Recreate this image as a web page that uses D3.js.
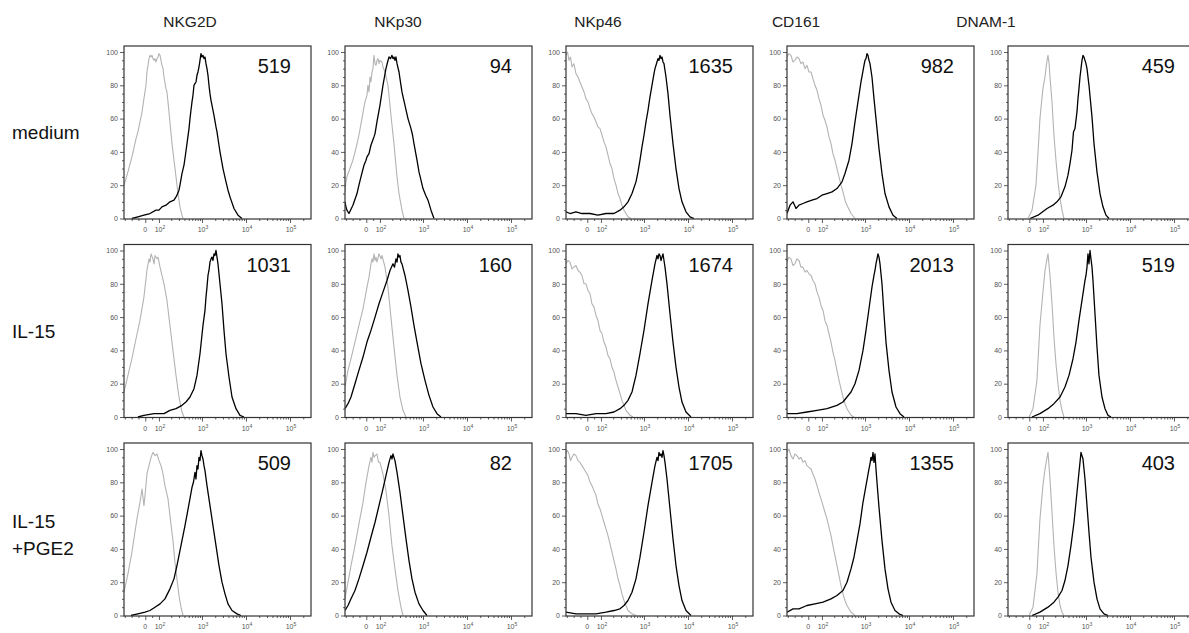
<!DOCTYPE html>
<html>
<head>
<meta charset="utf-8">
<script src="https://cdn.jsdelivr.net/npm/d3@7"></script>
<style>
  body { margin: 0; background: #fff; }
  svg { display: block; font-family: "Liberation Sans", Arial, sans-serif; }
</style>
</head>
<body>
<svg id="chart" width="1189" height="633"></svg>
<script>
// Receptor columns, culture-condition rows and the MFI printed in each panel
const markers = ["NKG2D", "NKp30", "NKp46", "CD161", "DNAM-1"];
const conditions = [["medium"], ["IL-15"], ["IL-15", "+PGE2"]];
const mfi = [
  [519, 94, 1635, 982, 459],
  [1031, 160, 1674, 2013, 519],
  [509, 82, 1705, 1355, 403]
];

// Axis ticks
const xTickValues = [0, 100, 1000, 10000, 100000];
const xTickLabels = [["0", ""], ["10", "2"], ["10", "3"], ["10", "4"], ["10", "5"]];
const xMinorValues = [-150, -100, -50, 50,
  200, 300, 400, 500, 600, 700, 800, 900,
  2000, 3000, 4000, 5000, 6000, 7000, 8000, 9000,
  20000, 30000, 40000, 50000, 60000, 70000, 80000, 90000, 200000];
const yTickValues = [0, 20, 40, 60, 80, 100];
const yMinorValues = [5, 10, 15, 25, 30, 35, 45, 50, 55, 65, 70, 75, 85, 90, 95];

// Histograms: [fluorescence intensity, % of max]; Iso = isotype control, Pos = stained
// medium
const nkg2dMediumIso = [[-156,20],[-127,28],[-98,37],[-68,48],[-54,52],[-39,58],[-24,64],[-10,72],[5,80],[12,88],[20,92],[27,96],[34,98],[42,97],[49,98],[56,96],[64,95],[71,96],[78,94],[86,96],[93,97],[100,99],[108,98],[122,92],[130,90],[137,85],[152,78],[160,76],[169,70],[187,58],[208,45],[219,40],[231,35],[257,25],[285,15],[316,7],[351,2],[370,0]];
const nkg2dMediumPos = [[-98,0],[-54,1],[-10,2],[34,3],[78,5],[100,5],[122,7],[152,8],[187,10],[231,11],[257,13],[270,14],[300,17],[316,20],[351,27],[390,32],[420,38],[456,45],[507,54],[534,60],[562,65],[593,70],[624,74],[658,80],[693,81],[731,82],[770,86],[811,88],[855,91],[901,95],[949,99],[1000,97],[1054,98],[1110,96],[1170,97],[1233,93],[1299,90],[1369,86],[1442,80],[1520,75],[1602,71],[1688,68],[1778,65],[1874,62],[2081,55],[2193,52],[2434,44],[2565,40],[3001,30],[3511,22],[3899,17],[4329,13],[5337,6],[6579,2],[8111,0]];
const nkp30MediumIso = [[-156,16],[-149,22],[-142,25],[-120,30],[-98,35],[-76,42],[-54,50],[-32,60],[-10,70],[5,74],[12,80],[20,76],[27,85],[34,82],[42,88],[49,90],[56,98],[64,93],[71,92],[78,95],[86,96],[93,93],[100,95],[115,94],[122,91],[137,88],[160,80],[187,62],[219,45],[257,25],[285,15],[333,5],[370,0]];
const nkp30MediumPos = [[-156,10],[-149,7],[-142,5],[-127,3],[-98,8],[-68,15],[-54,20],[-39,25],[-17,32],[-2,35],[5,37],[20,39],[34,44],[56,49],[64,51],[78,58],[100,68],[122,80],[144,90],[157,94],[169,97],[183,96],[197,98],[208,96],[219,97],[231,95],[243,97],[257,93],[285,88],[316,80],[333,76],[360,72],[390,68],[456,60],[534,54],[580,50],[624,45],[731,35],[811,28],[900,23],[1000,18],[1150,14],[1299,11],[1520,5],[1778,0]];
const nkp46MediumIso = [[-156,98],[-145,100],[-134,95],[-123,97],[-112,91],[-98,93],[-83,87],[-68,85],[-54,82],[-39,79],[-24,76],[-10,72],[5,70],[20,66],[34,63],[49,61],[64,58],[78,55],[93,54],[108,50],[122,46],[137,43],[152,38],[169,33],[187,30],[208,24],[231,20],[257,15],[285,12],[316,8],[351,5],[390,3],[433,1],[507,0]];
const nkp46MediumPos = [[-156,4],[-127,3],[-83,4],[-39,3],[20,3],[78,2],[137,3],[208,3],[285,5],[351,7],[433,10],[534,15],[658,22],[731,28],[811,35],[901,43],[1000,50],[1110,58],[1233,65],[1369,73],[1520,80],[1688,87],[1778,90],[1974,94],[2081,96],[2193,95],[2310,98],[2434,96],[2565,97],[2703,94],[2848,93],[3162,85],[3511,75],[3899,62],[4562,45],[5337,30],[6244,18],[7305,10],[9006,4],[11100,1],[13690,0]];
const cd161MediumIso = [[-156,97],[-142,99],[-127,98],[-112,94],[-98,95],[-83,97],[-68,96],[-54,93],[-39,94],[-24,90],[-10,92],[5,88],[20,88],[34,84],[49,80],[64,77],[78,72],[93,68],[108,62],[122,59],[137,55],[152,49],[169,45],[187,39],[208,35],[231,30],[257,25],[285,20],[316,16],[351,11],[390,8],[481,3],[593,0]];
const cd161MediumPos = [[-156,3],[-134,8],[-112,10],[-90,6],[-68,8],[-39,9],[-10,10],[27,11],[64,12],[100,14],[137,15],[178,16],[231,18],[300,22],[351,27],[433,35],[507,45],[593,58],[693,70],[811,82],[878,87],[949,92],[1000,95],[1054,96],[1110,99],[1170,98],[1233,95],[1299,93],[1442,85],[1602,72],[1778,60],[2081,42],[2434,27],[2848,15],[3511,7],[4329,2],[5337,0]];
const dnam1MediumIso = [[-10,0],[20,5],[49,20],[64,40],[78,60],[90,70],[100,78],[115,85],[122,90],[130,95],[137,98],[145,93],[152,85],[169,70],[187,50],[208,35],[231,22],[257,12],[285,5],[316,0]];
const dnam1MediumPos = [[5,0],[64,2],[130,6],[178,8],[219,10],[270,13],[333,19],[390,26],[433,33],[481,41],[520,52],[562,54],[624,64],[658,72],[693,78],[731,85],[770,90],[811,95],[855,98],[900,97],[949,95],[1000,93],[1054,90],[1170,80],[1369,61],[1520,45],[1778,28],[2081,15],[2434,7],[2848,2],[3332,0]];

// IL-15
const nkg2dIl15Iso = [[-156,15],[-127,25],[-98,35],[-68,47],[-39,58],[-10,72],[12,88],[27,95],[34,93],[42,98],[56,95],[64,92],[71,97],[86,95],[93,96],[108,90],[122,85],[137,80],[160,70],[187,55],[219,40],[257,25],[300,12],[351,3],[390,0]];
const nkg2dIl15Pos = [[-54,0],[-10,1],[64,2],[137,2],[187,4],[257,5],[351,7],[433,9],[534,12],[658,17],[770,25],[901,38],[1054,55],[1170,64],[1233,72],[1299,78],[1369,85],[1442,88],[1520,93],[1602,95],[1688,96],[1778,94],[1874,98],[1974,97],[2081,100],[2193,96],[2310,92],[2565,80],[2848,68],[3162,52],[3511,38],[4108,24],[4806,12],[5926,5],[7305,1],[9006,0]];
const nkp30Il15Iso = [[-156,18],[-134,28],[-112,35],[-83,45],[-54,55],[-24,65],[5,78],[20,84],[27,88],[34,92],[42,95],[49,93],[56,98],[64,94],[71,96],[78,93],[93,98],[108,95],[115,97],[137,90],[160,78],[187,60],[219,42],[257,25],[300,12],[351,4],[411,0]];
const nkp30Il15Pos = [[-156,5],[-134,8],[-112,12],[-83,20],[-54,28],[-24,36],[5,45],[34,52],[64,60],[93,68],[122,75],[152,82],[178,88],[208,92],[225,90],[243,95],[257,93],[270,98],[285,96],[300,97],[316,93],[333,92],[390,85],[456,76],[534,66],[624,55],[731,45],[901,32],[1110,22],[1369,13],[1688,6],[2081,2],[2565,0]];
const nkp46Il15Iso = [[-156,92],[-142,94],[-127,93],[-112,89],[-98,90],[-83,91],[-68,88],[-54,87],[-39,85],[-24,80],[-10,80],[5,76],[20,74],[34,68],[49,66],[64,61],[78,58],[93,52],[108,50],[122,45],[137,42],[152,37],[169,35],[187,30],[208,27],[231,22],[257,18],[285,14],[316,10],[390,4],[481,1],[562,0]];
const nkp46Il15Pos = [[-156,2],[-83,2],[-10,1],[64,2],[137,2],[208,3],[285,5],[351,7],[433,10],[534,15],[658,25],[811,38],[1000,52],[1233,68],[1520,82],[1778,92],[1974,97],[2081,95],[2193,98],[2310,97],[2434,94],[2565,96],[2703,98],[2848,94],[3001,90],[3332,80],[3899,62],[4562,45],[5337,30],[6244,18],[7305,9],[9006,3],[11700,0]];
const cd161Il15Iso = [[-156,93],[-142,96],[-127,95],[-112,91],[-98,92],[-83,95],[-68,94],[-54,90],[-39,90],[-24,87],[-10,88],[5,86],[20,85],[34,82],[49,80],[64,75],[78,72],[93,67],[108,64],[122,58],[137,55],[152,50],[169,45],[187,39],[208,34],[231,28],[257,22],[285,17],[316,12],[351,8],[390,5],[481,1],[562,0]];
const cd161Il15Pos = [[-156,2],[-83,2],[-10,3],[64,4],[137,5],[231,7],[316,9],[390,12],[481,15],[593,20],[731,28],[901,40],[1054,52],[1233,65],[1442,78],[1600,85],[1688,88],[1778,92],[1874,95],[1974,98],[2081,96],[2193,92],[2434,80],[2703,62],[3001,45],[3511,28],[4108,15],[5065,6],[6244,2],[7697,0]];
const dnam1Il15Iso = [[-2,0],[27,5],[56,22],[78,55],[100,75],[115,88],[130,95],[137,98],[152,85],[169,68],[187,48],[208,32],[231,20],[257,10],[285,4],[316,0]];
const dnam1Il15Pos = [[20,0],[78,2],[137,5],[187,8],[257,12],[333,18],[411,25],[507,35],[593,45],[693,58],[811,70],[949,82],[1000,85],[1054,90],[1110,98],[1170,92],[1233,100],[1299,95],[1369,90],[1442,82],[1602,62],[1778,42],[1974,25],[2310,12],[2703,5],[3162,1],[3700,0]];

// IL-15 + PGE2
const nkg2dPge2Iso = [[-156,14],[-127,25],[-98,38],[-76,50],[-61,58],[-39,68],[-24,76],[-10,66],[-2,72],[12,85],[27,90],[42,95],[56,98],[71,96],[86,97],[100,93],[115,90],[130,85],[144,78],[169,70],[197,55],[219,45],[243,32],[270,22],[300,12],[333,5],[370,0]];
const nkg2dPge2Pos = [[-105,0],[-54,1],[-2,2],[34,3],[71,5],[108,7],[144,10],[187,16],[231,22],[270,30],[333,42],[411,54],[507,67],[593,77],[640,80],[693,86],[730,82],[770,90],[811,88],[855,95],[900,93],[949,99],[1000,96],[1054,94],[1110,90],[1170,87],[1299,78],[1520,66],[1778,54],[2081,42],[2434,30],[2848,20],[3332,13],[3899,7],[4806,3],[6244,1],[7697,0]];
const nkp30Pge2Iso = [[-156,10],[-134,20],[-112,30],[-83,42],[-54,55],[-24,68],[-2,80],[20,90],[34,95],[42,92],[49,98],[57,95],[64,96],[78,97],[90,92],[100,92],[122,85],[144,75],[169,60],[197,42],[231,28],[270,15],[316,5],[351,0]];
const nkp30Pge2Pos = [[-156,3],[-134,6],[-112,10],[-83,15],[-54,22],[-24,30],[5,38],[34,47],[64,56],[93,66],[122,76],[144,84],[169,92],[187,96],[198,94],[208,97],[219,95],[231,93],[257,86],[300,74],[351,60],[411,46],[481,33],[562,22],[658,14],[811,7],[1000,3],[1233,0]];
const nkp46Pge2Iso = [[-156,98],[-145,99],[-134,97],[-123,93],[-112,95],[-98,97],[-83,96],[-68,93],[-54,92],[-39,90],[-24,88],[-10,86],[5,84],[20,80],[34,78],[49,75],[64,72],[78,67],[93,64],[108,60],[122,56],[137,52],[152,48],[169,43],[187,38],[208,33],[231,28],[257,22],[285,18],[316,13],[351,9],[390,6],[433,3],[534,1],[658,0]];
const nkp46Pge2Pos = [[-156,2],[-83,1],[-10,1],[64,1],[137,2],[208,3],[285,4],[351,6],[433,9],[534,14],[658,22],[811,35],[1000,50],[1233,66],[1520,80],[1778,90],[1974,95],[2081,93],[2193,98],[2310,96],[2434,97],[2565,95],[2703,99],[2848,96],[3001,92],[3332,82],[3899,64],[4562,46],[5337,30],[6244,18],[7305,9],[9006,3],[11700,0]];
const cd161Pge2Iso = [[-156,98],[-142,100],[-127,96],[-112,94],[-98,97],[-83,96],[-68,94],[-54,95],[-39,92],[-24,93],[-10,90],[5,89],[20,88],[34,85],[49,82],[64,78],[78,74],[93,70],[108,66],[122,62],[137,58],[152,53],[169,48],[187,42],[208,36],[231,30],[257,24],[285,18],[316,13],[351,9],[390,6],[481,2],[593,0]];
const cd161Pge2Pos = [[-156,2],[-112,4],[-68,4],[-10,6],[49,7],[108,8],[169,10],[231,12],[316,15],[390,20],[481,28],[562,35],[658,45],[770,55],[901,68],[1054,78],[1233,88],[1300,91],[1369,95],[1442,93],[1520,98],[1602,92],[1688,97],[1778,88],[1874,80],[2081,65],[2434,45],[2848,28],[3332,16],[3899,8],[4806,3],[5926,1],[7305,0]];
const dnam1Pge2Iso = [[-2,0],[27,5],[56,25],[78,58],[100,78],[115,88],[130,95],[137,98],[152,82],[169,62],[187,42],[208,26],[231,14],[257,6],[285,2],[316,0]];
const dnam1Pge2Pos = [[20,0],[78,2],[137,5],[187,8],[231,11],[285,15],[333,21],[390,30],[456,42],[534,56],[593,68],[658,80],[693,86],[731,92],[770,98],[810,96],[855,94],[949,82],[1054,66],[1170,50],[1299,35],[1520,20],[1778,10],[2081,4],[2565,1],[3162,0]];

const isotype = [
  [nkg2dMediumIso, nkp30MediumIso, nkp46MediumIso, cd161MediumIso, dnam1MediumIso],
  [nkg2dIl15Iso, nkp30Il15Iso, nkp46Il15Iso, cd161Il15Iso, dnam1Il15Iso],
  [nkg2dPge2Iso, nkp30Pge2Iso, nkp46Pge2Iso, cd161Pge2Iso, dnam1Pge2Iso]
];
const stained = [
  [nkg2dMediumPos, nkp30MediumPos, nkp46MediumPos, cd161MediumPos, dnam1MediumPos],
  [nkg2dIl15Pos, nkp30Il15Pos, nkp46Il15Pos, cd161Il15Pos, dnam1Il15Pos],
  [nkg2dPge2Pos, nkp30Pge2Pos, nkp46Pge2Pos, cd161Pge2Pos, dnam1Pge2Pos]
];

// Biexponential-style display transform: linear near zero, log10 above T
const T = 140;
function logicle(v) {
  return v >= T ? Math.log10(v) : Math.log10(T) + (v - T) / (T * Math.LN10);
}

const xMin = -156, xMax = 300000;
const panelW = 187, panelH = 173;
const colLeft = i => 124 + i * 221;
const rowTop = j => 46 + j * 198.5;
// header centres sit a little left of the panel centres
const titleCenters = [190, 398, 598, 796, 986];

const x = d3.scaleLinear().domain([logicle(xMin), logicle(xMax)]).range([0, panelW]);
const y = d3.scaleLinear().domain([0, 100]).range([panelH - 0.5, 6]);
const line = d3.line().x(d => x(logicle(d[0]))).y(d => y(d[1]));

const svg = d3.select("#chart");

// Column headers
svg.selectAll("text.col-title").data(markers).join("text")
  .attr("class", "col-title")
  .attr("x", (d, i) => titleCenters[i]).attr("y", 27)
  .attr("text-anchor", "middle")
  .attr("font-size", 15.5).attr("fill", "#222")
  .text(d => d);

// Row labels
conditions.forEach((lines, j) => {
  const t = svg.append("text")
    .attr("x", 12)
    .attr("y", rowTop(j) + 93 - (lines.length - 1) * 8)
    .attr("font-size", 19).attr("fill", "#111");
  lines.forEach((s, k) => {
    t.append("tspan").attr("x", 12).attr("dy", k === 0 ? 0 : 27).text(s);
  });
});

svg.append("defs").append("clipPath").attr("id", "plot-clip")
  .append("rect").attr("width", panelW).attr("height", panelH);

conditions.forEach((_, j) => {
  markers.forEach((m, i) => {
    const g = svg.append("g").attr("transform", `translate(${colLeft(i)},${rowTop(j)})`);

    // y axis
    const ya = g.append("g").call(d3.axisLeft(y).tickValues(yTickValues).tickSize(4).tickPadding(2));
    ya.selectAll("text").attr("font-size", 7).attr("fill", "#555").attr("font-family", "Liberation Sans, Arial, sans-serif");
    g.append("g").call(d3.axisLeft(y).tickValues(yMinorValues).tickSize(2).tickFormat(""));

    // x axis
    g.append("g").attr("transform", `translate(0,${panelH})`)
      .call(d3.axisBottom(x).tickValues(xTickValues.map(logicle)).tickSize(4).tickFormat(""));
    g.append("g").attr("transform", `translate(0,${panelH})`)
      .call(d3.axisBottom(x).tickValues(xMinorValues.map(logicle)).tickSize(2).tickFormat(""));
    xTickValues.forEach((v, k) => {
      const t = g.append("text")
        .attr("x", x(logicle(v)) + (xTickLabels[k][1] ? 1 : 0))
        .attr("y", panelH + 13)
        .attr("text-anchor", "middle")
        .attr("font-size", 7).attr("fill", "#555");
      t.append("tspan").text(xTickLabels[k][0]);
      if (xTickLabels[k][1]) {
        t.append("tspan").attr("dy", -3).attr("font-size", 5).text(xTickLabels[k][1]);
      }
    });

    g.selectAll(".domain").remove();
    g.selectAll(".tick line").attr("stroke", "#333").attr("stroke-width", 0.8);

    // histograms
    const plot = g.append("g").attr("clip-path", "url(#plot-clip)");
    plot.append("path").datum(isotype[j][i])
      .attr("d", line).attr("fill", "none")
      .attr("stroke", "#b3b3b3").attr("stroke-width", 1.1).attr("stroke-linejoin", "round");
    plot.append("path").datum(stained[j][i])
      .attr("d", line).attr("fill", "none")
      .attr("stroke", "#000").attr("stroke-width", 1.3).attr("stroke-linejoin", "round");

    // frame
    g.append("rect").attr("width", panelW).attr("height", panelH)
      .attr("fill", "none").attr("stroke", "#333").attr("stroke-width", 1.2);

    // MFI value
    g.append("text")
      .attr("x", panelW - 20).attr("y", 27)
      .attr("text-anchor", "end")
      .attr("font-size", 20).attr("fill", "#111")
      .text(mfi[j][i]);
  });
});
</script>
</body>
</html>
